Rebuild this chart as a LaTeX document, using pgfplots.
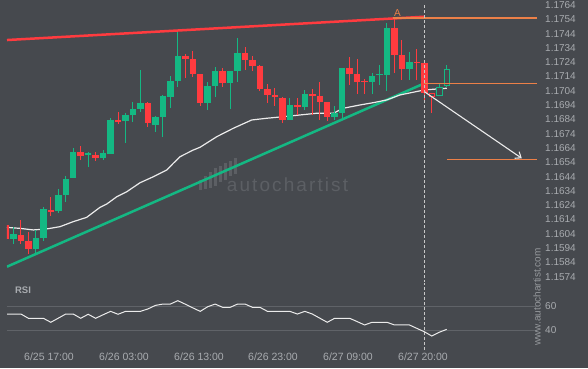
\documentclass[border=0pt]{standalone}
\usepackage{fontspec}
\setmainfont{Liberation Sans}
\usepackage{pgfplots}
\usepackage{pgfplotstable}
\pgfplotsset{compat=1.18}
\usetikzlibrary{arrows.meta}
\definecolor{bg}{RGB}{70,73,78}
\definecolor{cgreen}{RGB}{20,184,131}
\definecolor{cred}{RGB}{255,59,63}
\definecolor{corange}{RGB}{236,128,72}
\definecolor{ctick}{RGB}{168,171,175}
\definecolor{cgrid}{RGB}{96,99,104}
\definecolor{cwm}{RGB}{92,95,100}
\definecolor{cline}{RGB}{235,235,235}
\definecolor{cdash}{RGB}{200,200,200}

\pgfplotstableread{
i o h l c
1 1.16006 1.16090 1.15969 1.16039
4 1.15932 1.16067 1.15899 1.16013
5 1.16013 1.16227 1.15990 1.16213
7 1.16199 1.16358 1.16185 1.16311
8 1.16311 1.16444 1.16267 1.16423
9 1.16430 1.16640 1.16430 1.16612
11 1.16596 1.16612 1.16509 1.16603
13 1.16572 1.16626 1.16556 1.16605
14 1.16598 1.16848 1.16598 1.16836
16 1.16831 1.16883 1.16673 1.16871
17 1.16871 1.16960 1.16824 1.16913
18 1.16913 1.17185 1.16890 1.16953
20 1.16801 1.16864 1.16754 1.16859
21 1.16859 1.17011 1.16719 1.17004
22 1.16999 1.17144 1.16918 1.17109
23 1.17109 1.17458 1.17069 1.17283
27 1.16957 1.17104 1.16906 1.17074
28 1.17074 1.17209 1.16999 1.17178
30 1.17097 1.17178 1.16911 1.17178
31 1.17178 1.17407 1.17104 1.17306
38 1.16836 1.16988 1.16836 1.16941
40 1.16925 1.17050 1.16906 1.17018
44 1.16859 1.16934 1.16836 1.16883
45 1.16883 1.17197 1.16841 1.17197
49 1.17104 1.17167 1.17018 1.17144
50 1.17153 1.17220 1.17081 1.17160
51 1.17150 1.17512 1.17041 1.17477
54 1.17192 1.17313 1.17116 1.17244
}\greentab

\pgfplotstableread{
i o h l c
0 1.16102 1.16110 1.15990 1.16006
2 1.16032 1.16137 1.15969 1.15992
3 1.15990 1.16055 1.15899 1.15932
6 1.16206 1.16297 1.16164 1.16199
10 1.16612 1.16654 1.16556 1.16584
12 1.16593 1.16612 1.16547 1.16572
15 1.16836 1.16890 1.16806 1.16829
19 1.16953 1.16960 1.16789 1.16813
24 1.17283 1.17297 1.17127 1.17262
25 1.17262 1.17318 1.17139 1.17157
26 1.17157 1.17160 1.16934 1.16957
29 1.17178 1.17197 1.17064 1.17097
32 1.17306 1.17348 1.17185 1.17255
33 1.17255 1.17283 1.17181 1.17216
34 1.17216 1.17220 1.17040 1.17050
35 1.17050 1.17092 1.16953 1.17011
36 1.17011 1.17064 1.16934 1.16999
37 1.16992 1.16995 1.16813 1.16836
39 1.16941 1.16988 1.16871 1.16929
41 1.17016 1.17057 1.16871 1.17004
42 1.17004 1.17104 1.16836 1.16964
43 1.16964 1.16964 1.16831 1.16859
46 1.17197 1.17274 1.17081 1.17157
47 1.17157 1.17260 1.17022 1.17104
48 1.17111 1.17127 1.17022 1.17104
52 1.17477 1.17547 1.17162 1.17290
53 1.17290 1.17395 1.17116 1.17192
55 1.17244 1.17330 1.17116 1.17232
56 1.17237 1.17237 1.16953 1.17027
}\redtab

\pgfplotstableread{
i o h l c
57 1.17023 1.17023 1.16883 1.17000
}\hollowred

\pgfplotstableread{
i o h l c
58 1.17006 1.17088 1.17006 1.17069
59 1.17074 1.17220 1.17064 1.17197
}\hollowgreen

\pgfplotstableread{
i p
0.09 1.16085
1.87 1.16078
3.65 1.16067
5.45 1.16074
7.23 1.16090
9.01 1.16125
10.8 1.16155
12.58 1.16225
13.48 1.16248
14.82 1.16299
16.16 1.16334
17.94 1.16397
19.72 1.16439
21.51 1.16486
22.4 1.16533
23.29 1.16579
25.07 1.16626
25.97 1.16645
28.21 1.16719
30.43 1.16778
32.89 1.16836
34.9 1.16848
37.12 1.16859
39.36 1.16871
41.59 1.16883
43.82 1.16883
45.15 1.16918
47.39 1.16941
49.17 1.16957
50.96 1.16976
52.74 1.17011
56 1.17046
59 1.17058
}\matab

\pgfplotstableread{
i r
0 53.4
1 53.4
2 53.4
3 49.9
4 49.9
5 49.9
6 46.6
7 50.0
8 53.4
9 53.4
10 49.9
11 53.2
12 49.9
13 52.8
14 55.6
15 53.2
16 55.6
17 55.6
18 55.6
19 57.6
20 60.5
21 61.6
22 61.6
23 64.4
24 61.5
25 58.5
26 55.6
27 59.4
28 61.6
29 58.9
30 58.9
31 61.6
32 61.6
33 58.9
34 58.9
35 55.6
36 55.6
37 55.6
38 55.6
39 53.4
40 55.6
41 53.4
42 50.0
43 46.6
44 49.9
45 49.9
46 49.9
47 47.2
48 44.4
49 46.6
50 46.6
51 46.6
52 44.4
53 44.4
54 44.4
55 41.6
56 38.8
57 35.3
58 38.4
59 40.8
}\rsitab

\pgfplotsset{
  wick/.style={draw=none, mark=none, error bars/.cd, y dir=both, y explicit, error mark=none,
    error bar style={draw=#1, line width=1pt}},
  body/.style={draw=none, mark=none, error bars/.cd, y dir=both, y explicit, error mark=none,
    error bar style={draw=#1, line width=6.5pt}},
  inner/.style={draw=none, mark=none, error bars/.cd, y dir=both, y explicit, error mark=none,
    error bar style={draw=bg, line width=4.5pt}},
  panel/.style={scale only axis, anchor=south west, width=530pt,
    xmin=0.134, xmax=71.08, axis line style={draw=none}, major tick length=0pt,
    scaled y ticks=false, yticklabel pos=right,
    yticklabel style={anchor=west, inner sep=0pt, xshift=8pt, text=ctick,
      font=\fontsize{10}{12}\selectfont},
    /pgf/number format/assume math mode=true},
}

\begin{document}
\begin{tikzpicture}[x=1pt,y=1pt]
\fill[bg] (0,0) rectangle (588,368);
% watermark
\foreach \xx/\ya/\yb in {199/178/188, 204/179/192, 209/180/196, 214/182/200, 219/186/202, 224/188/205, 229/192/207, 234/194/210}
  \fill[cwm] (\xx,\ya) rectangle ++(2.5,\yb-\ya);
\node[cwm, font=\fontsize{19}{22}\selectfont\addfontfeatures{LetterSpace=11}] at (287.5,183) {autochartist};

\begin{axis}[panel, at={(7pt,86pt)}, height=282pt,
  ymin=1.157029, ymax=1.17675, xtick=\empty,
  ytick={1.1574,1.1584,1.1594,1.1604,1.1614,1.1624,1.1634,1.1644,1.1654,1.1664,1.1674,1.1684,1.1694,1.1704,1.1714,1.1724,1.1734,1.1744,1.1754,1.1764},
  yticklabel style={/pgf/number format/.cd, fixed, fixed zerofill, precision=4}]
\addplot[cgreen, line width=2.5pt] coordinates {(0.134,1.15810) (56,1.17092)};
\addplot[cline, line width=1.2pt] table[x=i, y=p] {\matab};
% candles
\addplot[wick=cgreen] table[x=i, y expr={(\thisrow{h}+\thisrow{l})/2}, y error expr={(\thisrow{h}-\thisrow{l})/2}] {\greentab};
\addplot[body=cgreen] table[x=i, y expr={(\thisrow{o}+\thisrow{c})/2}, y error expr={max(abs(\thisrow{o}-\thisrow{c})/2,0.00004)}] {\greentab};
\addplot[wick=cred] table[x=i, y expr={(\thisrow{h}+\thisrow{l})/2}, y error expr={(\thisrow{h}-\thisrow{l})/2}] {\redtab};
\addplot[body=cred] table[x=i, y expr={(\thisrow{o}+\thisrow{c})/2}, y error expr={max(abs(\thisrow{o}-\thisrow{c})/2,0.00004)}] {\redtab};
\addplot[wick=cred] table[x=i, y expr={(\thisrow{h}+\thisrow{l})/2}, y error expr={(\thisrow{h}-\thisrow{l})/2}] {\hollowred};
\addplot[body=cred] table[x=i, y expr={(\thisrow{o}+\thisrow{c})/2}, y error expr={abs(\thisrow{o}-\thisrow{c})/2}] {\hollowred};
\addplot[inner] table[x=i, y expr={(\thisrow{o}+\thisrow{c})/2}, y error expr={abs(\thisrow{o}-\thisrow{c})/2-0.00007}] {\hollowred};
\addplot[wick=cgreen] table[x=i, y expr={(\thisrow{h}+\thisrow{l})/2}, y error expr={(\thisrow{h}-\thisrow{l})/2}] {\hollowgreen};
\addplot[body=cgreen] table[x=i, y expr={(\thisrow{o}+\thisrow{c})/2}, y error expr={abs(\thisrow{o}-\thisrow{c})/2}] {\hollowgreen};
\addplot[inner] table[x=i, y expr={(\thisrow{o}+\thisrow{c})/2}, y error expr={abs(\thisrow{o}-\thisrow{c})/2-0.00007}] {\hollowgreen};
% pattern lines
\addplot[cred, line width=2.5pt] coordinates {(0.134,1.17395) (56,1.17558)};
\addplot[corange, line width=1.5pt] coordinates {(51.8,1.17548) (71.08,1.17548)};
\addplot[corange, line width=1.5pt] coordinates {(56,1.17092) (71.08,1.17092)};
\addplot[corange, line width=1.5pt] coordinates {(59,1.16561) (71.08,1.16561)};
\addplot[cline, line width=1.1pt, -{Straight Barb[length=5pt,width=8pt]}] coordinates {(56,1.17034) (69.04,1.16568)};
\addplot[cdash, line width=0.9pt, dash pattern=on 3pt off 2pt] coordinates {(56,1.1764) (56,1.157029)};
\node[corange, font=\fontsize{10}{12}\selectfont] at (axis cs:52.4,1.17586) {A};
\end{axis}

\begin{axis}[panel, at={(7pt,18pt)}, height=67pt,
  ymin=23.79, ymax=78.93, ytick={40,60},
  ymajorgrids, grid style={draw=cgrid, line width=0.9pt},
  xtick={5.756,15.80,25.84,35.74,45.78,55.82},
  xticklabels={6/25 17:00,6/26 03:00,6/26 13:00,6/26 23:00,6/27 09:00,6/27 20:00},
  xticklabel style={anchor=base, yshift=-10.4pt, text=ctick, font=\fontsize{10.5}{12}\selectfont}]
\addplot[cdash, line width=0.9pt, dash pattern=on 3pt off 2pt] coordinates {(56,23.79) (56,78.93)};
\addplot[cline, line width=1pt] table[x=i, y=r] {\rsitab};
\end{axis}

\node[text=ctick, font=\bfseries\fontsize{9.5}{11}\selectfont] at (23,77.3) {RSI};
\node[rotate=90, text={rgb,255:red,150;green,153;blue,157}, font=\fontsize{10}{12}\selectfont] at (537,71) {www.autochartist.com};
\pgfresetboundingbox
\useasboundingbox (0,0) rectangle (588,368);
\end{tikzpicture}
\end{document}
